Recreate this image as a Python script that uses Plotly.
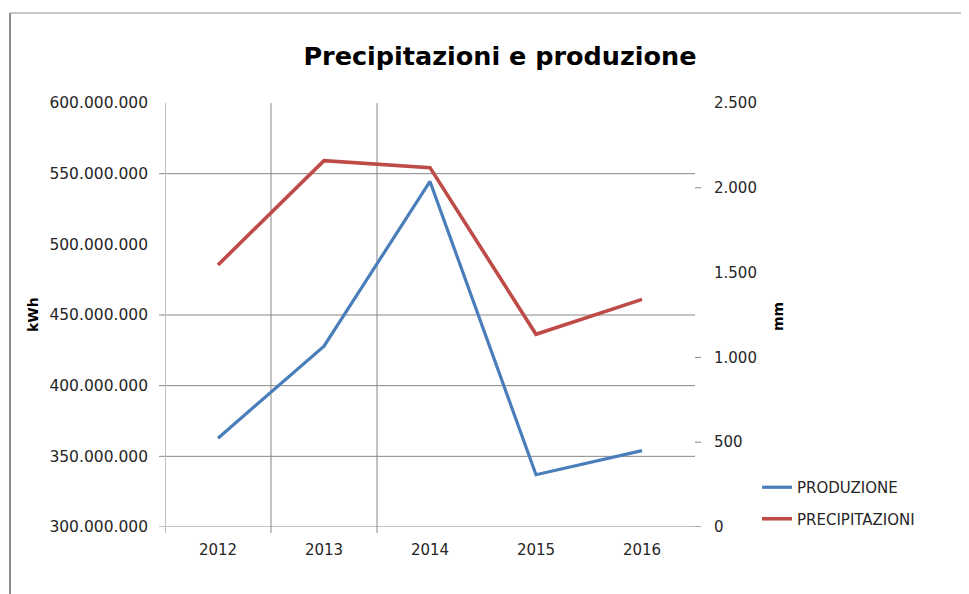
import plotly.graph_objects as go

years = ["2012", "2013", "2014", "2015", "2016"]
produzione = [362_800_000, 428_000_000, 544_500_000, 337_000_000, 354_000_000]
precipitazioni = [1545, 2160, 2119, 1136, 1342]
kwh_ticks = [300_000_000, 350_000_000, 400_000_000, 450_000_000, 500_000_000, 550_000_000, 600_000_000]
mm_ticks = [0, 500, 1000, 1500, 2000, 2500]
kwh_grid = [300_000_000, 350_000_000, 400_000_000, 450_000_000, 550_000_000]
mm_tickmarks = [0, 500, 1000, 2000]

# page offset (default body margin of the html page)
OX, OY = 8, 8
W, H = 969 - OX, 594 - OY
L, R, T, B = 165, 695, 103, 527   # plot area in screen pixels
PW, PH = R - L, B - T

def px(xp):
    return (xp - L) / PW

def py(yp):
    return (B - yp) / PH

BLUE = "#4a7ebb"
RED = "#be4b48"
GRID = "#868686"
FONT = "DejaVu Sans"
TXT = "#262626"

fig = go.Figure()
fig.add_trace(go.Scatter(x=years, y=produzione, name="PRODUZIONE", mode="lines",
                         line=dict(color=BLUE, width=3.2), yaxis="y", legendgroup="a"))
fig.add_trace(go.Scatter(x=years, y=precipitazioni, name="PRECIPITAZIONI", mode="lines",
                         line=dict(color=RED, width=3.6), yaxis="y2", legendgroup="b"))

shapes = []
for v in kwh_grid:
    x1 = 1 + 6 / PW if v == kwh_grid[0] else 1
    shapes.append(dict(type="line", xref="x domain", yref="y", x0=-6 / PW, x1=x1, y0=v, y1=v,
                       line=dict(color=GRID, width=1), layer="below"))
for v in mm_tickmarks:
    shapes.append(dict(type="line", xref="x domain", yref="y2", x0=1, x1=1 + 6 / PW, y0=v, y1=v,
                       line=dict(color=GRID, width=1), layer="below"))
for xv in [0.5, 1.5]:
    shapes.append(dict(type="line", xref="x", yref="y domain", x0=xv, x1=xv, y0=-6 / PH, y1=1,
                       line=dict(color=GRID, width=1), layer="below"))
shapes.append(dict(type="line", xref="x", yref="y domain", x0=-0.5, x1=-0.5, y0=-6 / PH, y1=1,
                   line=dict(color="#bfbfbf", width=2), layer="below"))
shapes.append(dict(type="line", xref="paper", yref="paper", x0=px(10), x1=px(975), y0=py(13), y1=py(13),
                   line=dict(color="#b4b4b4", width=1.5)))
shapes.append(dict(type="line", xref="paper", yref="paper", x0=px(10), x1=px(10), y0=py(13), y1=py(600),
                   line=dict(color="#8c8c8c", width=2)))

annotations = [
    dict(text="<b>kWh</b>", xref="paper", yref="paper", x=px(33), y=py(315), showarrow=False, textangle=-90,
         font=dict(family=FONT, size=14, color="#000000"), xanchor="center", yanchor="middle"),
    dict(text="<b>mm</b>", xref="paper", yref="paper", x=px(778), y=py(317), showarrow=False, textangle=-90,
         font=dict(family=FONT, size=14, color="#000000"), xanchor="center", yanchor="middle"),
]

fig.update_layout(
    width=W, height=H,
    margin=dict(l=L - OX, r=W - (R - OX), t=T - OY, b=H - (B - OY), pad=0),
    paper_bgcolor="white", plot_bgcolor="white",
    separators=",.",
    title=dict(text="<b>Precipitazioni e produzione</b>", xref="paper", x=px(500), xanchor="center",
               yref="container", y=1 - (56 - OY) / H, yanchor="middle",
               font=dict(family=FONT, size=25.5, color="#000000")),
    xaxis=dict(type="category", range=[-0.5, 4.5], showgrid=False, showline=False, zeroline=False,
               ticks="", ticklabelstandoff=12, tickfont=dict(family=FONT, size=15, color=TXT)),
    yaxis=dict(range=[kwh_ticks[0], kwh_ticks[-1]], tickvals=kwh_ticks, tickformat=",d",
               showgrid=False, zeroline=False, showline=False, ticks="", ticklabelstandoff=16,
               tickfont=dict(family=FONT, size=15.5, color=TXT)),
    yaxis2=dict(range=[mm_ticks[0], mm_ticks[-1]], tickvals=mm_ticks, tickformat=",d", overlaying="y",
                side="right", showgrid=False, zeroline=False, showline=False, ticks="", ticklabelstandoff=18,
                tickfont=dict(family=FONT, size=15, color=TXT)),
    legend=dict(x=px(757), y=py(471), xanchor="left", yanchor="top", traceorder="grouped",
                tracegroupgap=9, bgcolor="rgba(0,0,0,0)",
                font=dict(family=FONT, size=15, color=TXT)),
    shapes=shapes,
    annotations=annotations,
)

fig.write_html("out.html")
